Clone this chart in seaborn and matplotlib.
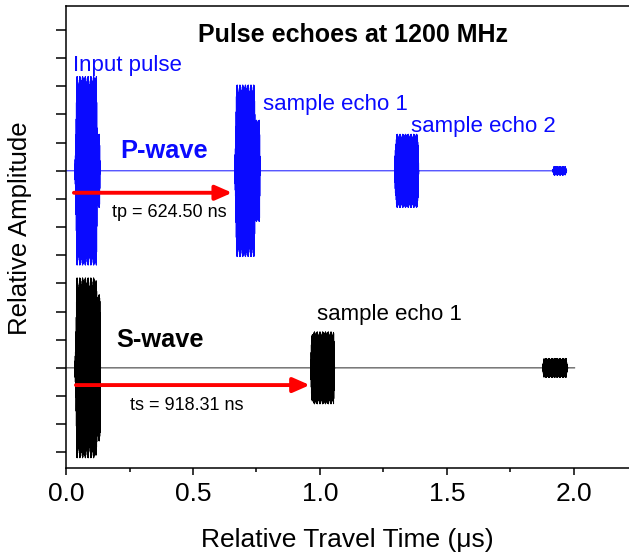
import numpy as np
import pandas as pd
import matplotlib
matplotlib.use("Agg")
import matplotlib.pyplot as plt
import seaborn as sns

# ---------------- data ----------------
carrier_mhz = 1200                      # carrier frequency (title)
p_baseline = 10                         # vertical offset of P-wave trace
s_baseline = 3                          # vertical offset of S-wave trace
p_trace_end = 1.972                     # µs
s_trace_end = 2.004                     # µs

# burst envelopes: breakpoint times (µs) and amplitudes (tick units)
p_env_times = [
    [0.034, 0.038, 0.042, 0.120, 0.122, 0.132, 0.134],
    [0.664, 0.667, 0.671, 0.742, 0.745, 0.762, 0.764],
    [1.294, 1.297, 1.301, 1.386, 1.389],
    [1.916, 1.921, 1.966, 1.971],
]
p_env_amps = [
    [0.0, 0.95, 3.35, 3.35, 1.3, 1.3, 0.0],
    [0.0, 1.0, 3.05, 3.05, 1.8, 1.8, 0.0],
    [0.0, 0.9, 1.3, 1.3, 0.0],
    [0.0, 0.15, 0.15, 0.0],
]
s_env_times = [
    [0.034, 0.038, 0.042, 0.118, 0.122, 0.134, 0.136],
    [0.963, 0.966, 0.970, 1.054, 1.058],
    [1.876, 1.882, 1.970, 1.976],
]
s_env_amps = [
    [0.0, 1.0, 3.2, 3.2, 2.6, 2.6, 0.0],
    [0.0, 0.9, 1.28, 1.28, 0.0],
    [0.0, 0.34, 0.34, 0.0],
]

# travel-time arrows: start (µs), end (µs), height (tick units)
arrow_start = [0.031, 0.039]
arrow_end = [0.654, 0.960]
arrow_y = [9.22, 2.39]
arrow_labels = ["tp = 624.50 ns", "ts = 918.31 ns"]

x_major_ticks = [0.0, 0.5, 1.0, 1.5, 2.0]
x_tick_labels = ["0.0", "0.5", "1.0", "1.5", "2.0"]
x_minor_ticks = [0.25, 0.75, 1.25, 1.75]
y_ticks = list(range(16))

sample_rate_per_us = 4708               # digitiser rate of the traces


def build_trace(end, env_times, env_amps, base):
    t = np.arange(0.0, end, 1 / sample_rate_per_us)
    env = np.zeros_like(t)
    for tt, aa in zip(env_times, env_amps):
        env += np.interp(t, tt, aa, left=0.0, right=0.0)
    y = base + env * np.cos(2 * np.pi * carrier_mhz * t)
    return pd.DataFrame({"time": t, "amp": y})


p_df = build_trace(p_trace_end, p_env_times, p_env_amps, p_baseline)
s_df = build_trace(s_trace_end, s_env_times, s_env_amps, s_baseline)

# ---------------- plotting ----------------
sns.set_theme(style="ticks")
plt.rcParams["font.family"] = ["Liberation Sans", "DejaVu Sans"]
for key in ["text.color", "axes.labelcolor", "xtick.color", "ytick.color",
            "axes.edgecolor"]:
    plt.rcParams[key] = "black"

fig = plt.figure(figsize=(6.29, 5.54), dpi=100)
ax = fig.add_axes([0.105, 0.155, 0.895, 0.834])

sns.lineplot(data=p_df, x="time", y="amp", color="#0a0aff", lw=0.7,
             estimator=None, sort=False, ax=ax)
sns.lineplot(data=s_df, x="time", y="amp", color="#000000", lw=0.6,
             estimator=None, sort=False, ax=ax)

for xs, xe, yy in zip(arrow_start, arrow_end, arrow_y):
    ax.annotate("", xy=(xe, yy), xytext=(xs, yy),
                arrowprops=dict(arrowstyle="-|>,head_length=0.5,head_width=0.22",
                                color="#ff0000", lw=2.8, mutation_scale=20,
                                shrinkA=0, shrinkB=0))

ax.set_xlim(0, 2.217)
ax.set_ylim(-0.56, 15.85)
ax.set_xticks(x_major_ticks)
ax.set_xticklabels(x_tick_labels)
ax.set_xticks(x_minor_ticks, minor=True)
ax.set_yticks(y_ticks)
ax.set_yticklabels([])
ax.tick_params(axis="x", which="major", direction="out", length=5, width=1.1,
               labelsize=19, pad=5, colors="black")
ax.tick_params(axis="x", which="minor", direction="out", length=3, width=1.1,
               colors="black")
ax.tick_params(axis="y", direction="out", length=7, width=1.1, colors="black")
for side in ["left", "top", "bottom"]:
    ax.spines[side].set_linewidth(1.1)
    ax.spines[side].set_color("black")
ax.spines["right"].set_visible(False)

ax.set_xlabel("Relative Travel Time (μs)", fontsize=19, labelpad=16,
              color="black")
ax.set_ylabel("Relative Amplitude", fontsize=18.5, color="black")
ax.yaxis.set_label_coords(-0.060, 0.519)

# texts (baseline anchored)
ax.text(1.132, 14.58, "Pulse echoes at 1200 MHz", fontsize=18, fontweight="bold",
        ha="center", va="baseline", color="black")
ax.text(0.028, 13.55, "Input pulse", fontsize=16, color="#0a0aff",
        ha="left", va="baseline")
ax.text(0.776, 12.16, "sample echo 1", fontsize=16, color="#0a0aff",
        ha="left", va="baseline")
ax.text(1.358, 11.38, "sample echo 2", fontsize=16, color="#0a0aff",
        ha="left", va="baseline")
ax.text(0.386, 10.45, "P-wave", fontsize=18.3, fontweight="bold", color="#0a0aff",
        ha="center", va="baseline")
ax.text(0.405, 8.36, arrow_labels[0], fontsize=13, ha="center", va="baseline",
        color="black")
ax.text(0.372, 3.74, "S-wave", fontsize=18.3, fontweight="bold",
        ha="center", va="baseline", color="black")
ax.text(0.476, 1.50, arrow_labels[1], fontsize=13, ha="center", va="baseline",
        color="black")
ax.text(0.988, 4.70, "sample echo 1", fontsize=16, color="black",
        ha="left", va="baseline")

fig.savefig("out.png", dpi=100)
